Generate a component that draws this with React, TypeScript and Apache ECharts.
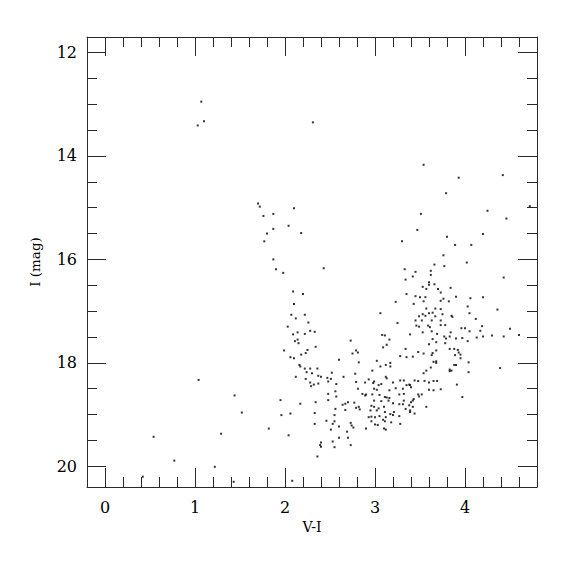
import React, { useEffect, useRef } from "react";
import * as echarts from "echarts";

// V-I colour, I magnitude pairs
const brightStars: [number, number][] = [
  [1.07, 12.95], [1.03, 13.41], [1.1, 13.33], [2.31, 13.35],
];

const blueBranch: [number, number][] = [
  [1.7, 14.92], [1.72, 14.98], [1.76, 15.16], [1.87, 15.12], [2.1, 15.01], [2.04, 15.35], [1.87, 15.41],
  [1.8, 15.5], [1.77, 15.65], [1.87, 16.0], [1.9, 16.19], [1.98, 16.26], [2.09, 16.62], [2.18, 15.49],
  [2.43, 16.17], [2.2, 16.67],
  [2.1, 16.86], [2.07, 17.07], [2.22, 17.07], [2.12, 17.14], [2.26, 17.22], [2.03, 17.3], [2.28, 17.38],
  [2.33, 17.4], [2.14, 17.41], [2.09, 17.45], [2.22, 17.44], [2.14, 17.55], [2.11, 17.58], [2.15, 17.62],
  [2.73, 17.57], [2.34, 17.69], [1.99, 17.76], [2.25, 17.75], [2.23, 17.81], [2.18, 17.84], [2.79, 17.76],
  [2.81, 17.8], [2.75, 17.82], [2.06, 17.89], [2.1, 17.91], [2.6, 17.94], [2.82, 17.99], [2.16, 18.04],
  [2.17, 18.07], [2.22, 18.11], [2.28, 18.11], [2.36, 18.11], [2.24, 18.18], [2.3, 18.2], [2.12, 18.27],
  [2.37, 18.25], [2.4, 18.27], [2.52, 18.19], [2.23, 18.31], [2.47, 18.29], [2.51, 18.31], [2.65, 18.27],
  [2.78, 18.21], [2.93, 18.32], [2.28, 18.38], [2.37, 18.4], [2.48, 18.36], [2.79, 18.37], [2.89, 18.38],
  [2.57, 18.41], [2.29, 18.45], [2.32, 18.42], [2.56, 18.55], [2.81, 18.5], [2.86, 18.6], [2.9, 18.61],
  [2.89, 18.63], [2.48, 18.6], [2.57, 18.65],
];

const faintBranch: [number, number][] = [
  [1.95, 18.72], [2.17, 18.79], [2.34, 18.76], [2.48, 18.72], [2.64, 18.81], [2.67, 18.79], [2.7, 18.76],
  [2.77, 18.77], [2.79, 18.87], [2.82, 18.85], [2.83, 18.9], [2.56, 18.89], [2.67, 18.91], [1.96, 19.01],
  [2.06, 18.98], [2.33, 18.97], [2.55, 19.01], [2.46, 19.12], [2.55, 19.13], [2.73, 19.16], [2.93, 19.05],
  [2.33, 19.18], [2.53, 19.18], [2.6, 19.23], [2.74, 19.21], [2.76, 19.25], [2.51, 19.29], [2.9, 19.27],
  [2.69, 19.33], [2.04, 19.4], [2.6, 19.45], [2.7, 19.45], [2.53, 19.52], [2.4, 19.54], [2.39, 19.59],
  [2.4, 19.62], [2.73, 19.59], [2.55, 19.63], [2.36, 19.81], [2.08, 20.28],
];

const redUpper: [number, number][] = [
  [3.54, 14.17], [3.93, 14.42], [4.42, 14.37], [3.79, 14.72], [4.72, 14.97], [4.25, 15.06], [3.51, 15.12],
  [4.46, 15.21], [3.47, 15.43], [4.2, 15.51], [3.8, 15.56], [3.3, 15.65], [3.89, 15.72], [4.07, 15.72],
  [3.76, 15.92], [4.02, 16.06], [3.66, 16.1], [3.77, 16.13], [3.33, 16.19], [3.45, 16.24], [3.62, 16.22],
  [3.62, 16.3], [3.42, 16.33], [3.34, 16.39], [4.43, 16.35], [3.6, 16.44], [3.6, 16.49], [3.66, 16.48],
  [3.53, 16.53], [3.57, 16.57], [3.7, 16.57], [3.84, 16.55], [3.73, 16.64], [3.35, 16.67], [3.45, 16.71],
  [3.5, 16.73], [3.56, 16.73], [3.76, 16.76], [3.9, 16.72], [4.06, 16.75], [4.2, 16.73],
  [4.36, 16.97], [4.12, 17.15], [4.19, 17.29], [4.17, 17.38], [4.5, 17.34], [4.13, 17.51], [4.2, 17.49],
  [4.3, 17.47], [4.43, 17.49], [4.6, 17.46], [4.39, 18.1],
];

const redMiddle: [number, number][] = [
  [3.23, 16.82], [3.43, 16.86], [3.54, 16.81], [3.73, 16.8], [3.82, 16.81], [3.67, 16.95], [3.73, 16.96],
  [3.57, 16.95], [3.06, 17.04], [4.03, 16.91], [4.05, 17.04], [3.53, 17.06], [3.6, 17.04], [3.64, 17.03],
  [3.56, 17.09], [3.49, 17.1], [3.67, 17.1], [3.75, 17.06], [3.85, 17.09], [3.86, 17.11], [3.45, 17.18],
  [3.52, 17.18], [3.63, 17.18], [3.73, 17.18], [3.25, 17.23], [3.46, 17.28], [3.49, 17.3], [3.59, 17.28],
  [3.61, 17.31], [3.73, 17.27], [3.78, 17.27], [3.96, 17.33], [4.0, 17.33], [4.05, 17.39], [3.53, 17.41],
  [3.63, 17.39], [3.69, 17.44], [3.84, 17.41], [3.83, 17.49], [3.39, 17.45], [3.08, 17.46], [3.11, 17.47],
  [3.13, 17.65], [3.16, 17.55], [3.09, 17.7], [3.64, 17.54], [3.77, 17.49], [3.79, 17.53], [3.9, 17.53],
  [3.97, 17.52], [4.03, 17.58], [3.6, 17.64], [3.68, 17.6], [3.78, 17.62], [3.34, 17.73], [3.48, 17.79],
  [3.54, 17.82], [3.64, 17.81], [3.68, 17.76], [3.63, 17.85], [3.83, 17.73], [3.88, 17.73], [3.92, 17.75],
  [3.95, 17.84], [3.89, 17.85], [3.93, 17.8], [3.02, 17.96], [3.28, 17.87], [3.35, 17.89], [3.42, 17.88],
  [3.65, 17.98], [3.68, 17.97], [3.68, 18.0], [4.04, 17.99], [3.95, 17.91], [3.12, 18.04], [3.17, 18.0],
  [3.17, 18.07], [3.06, 18.07], [2.97, 18.15], [3.62, 18.09], [3.57, 18.15], [3.54, 18.2], [3.83, 18.13],
  [3.85, 18.15], [3.88, 18.04], [3.9, 18.04], [3.83, 18.16], [4.04, 18.18],
];

const redClump: [number, number][] = [
  [2.99, 18.36], [2.98, 18.39], [3.07, 18.41], [3.12, 18.27], [3.13, 18.3], [3.2, 18.38], [3.28, 18.34],
  [3.32, 18.34], [3.35, 18.43], [3.39, 18.43], [3.44, 18.34], [3.48, 18.35], [3.55, 18.35], [3.6, 18.38],
  [3.65, 18.35], [3.69, 18.35], [3.73, 18.51], [3.91, 18.42], [3.97, 18.66], [2.99, 18.5], [3.02, 18.52],
  [3.04, 18.43], [3.16, 18.53], [3.23, 18.49], [3.31, 18.5], [3.32, 18.6], [3.38, 18.42], [3.4, 18.47],
  [3.49, 18.65], [3.52, 18.61], [3.48, 18.61], [3.6, 18.52], [3.65, 18.53], [2.97, 18.61], [3.05, 18.62],
  [3.13, 18.67], [3.16, 18.68], [3.11, 18.66], [3.27, 18.61], [3.43, 18.7],
  [2.99, 18.73], [3.07, 18.74], [3.15, 18.73], [3.32, 18.73], [3.42, 18.73], [3.2, 18.78], [3.27, 18.8],
  [3.31, 18.8], [3.4, 18.76], [3.38, 18.82], [3.42, 18.85], [3.34, 18.89], [2.96, 18.83], [2.99, 18.85],
  [3.04, 18.88], [3.1, 18.85], [2.95, 18.92], [3.02, 18.92], [3.11, 18.95], [3.17, 18.99], [3.2, 19.01],
  [3.21, 18.95], [3.27, 19.03], [2.96, 19.04], [3.0, 19.05], [3.05, 19.03], [3.12, 19.05], [3.39, 18.92],
  [3.39, 18.95], [3.44, 18.98], [3.57, 18.85], [3.09, 19.1], [3.11, 19.13], [3.18, 19.15], [3.28, 19.18],
  [2.96, 19.13], [3.0, 19.19], [3.03, 19.2], [3.1, 19.27], [3.12, 19.29],
];

const faintBlue: [number, number][] = [
  [1.04, 18.33], [1.44, 18.63], [1.52, 18.96], [1.82, 19.27], [1.29, 19.37], [1.22, 20.01], [1.43, 20.3],
  [0.54, 19.43], [0.77, 19.89], [0.42, 20.2],
];

const xMajorTicks = [0, 1, 2, 3, 4];
const xMinorTicks = [0.2, 0.4, 0.6, 0.8, 1.2, 1.4, 1.6, 1.8, 2.2, 2.4, 2.6, 2.8, 3.2, 3.4, 3.6, 3.8, 4.2, 4.4, 4.6];
const yMajorTicks = [12, 14, 16, 18, 20];
const yMinorTicks = [12.5, 13, 13.5, 14.5, 15, 15.5, 16.5, 17, 17.5, 18.5, 19, 19.5];

const FONT = "DejaVu Serif";
const AXIS = "#2a2a2a";

export default function App() {
  const ref = useRef<HTMLDivElement>(null);
  useEffect(() => {
    if (!ref.current) return;
    const chart = echarts.init(ref.current, undefined, { renderer: "svg" });
    const allPoints = [
      ...brightStars, ...blueBranch, ...faintBranch, ...redUpper, ...redMiddle, ...redClump, ...faintBlue,
    ];
    const xBase = { type: "value" as const, min: -0.2, max: 4.8, splitLine: { show: false } };
    const yBase = { type: "value" as const, min: 11.7, max: 20.4, inverse: true, splitLine: { show: false } };
    const line = (show: boolean) => ({ show, onZero: false, lineStyle: { color: AXIS, width: 1 } });
    const tick = (vals: number[], len: number) => ({
      show: true, inside: true, length: len, customValues: vals, lineStyle: { color: AXIS, width: 1 },
    });
    chart.setOption({
      animation: false,
      backgroundColor: "#fff",
      grid: { left: 87, top: 37, width: 450, height: 450, containLabel: false },
      xAxis: [
        {
          ...xBase, position: "bottom", axisLine: line(true), axisTick: tick(xMajorTicks, 19),
          axisLabel: { customValues: xMajorTicks, margin: 12, fontFamily: FONT, fontSize: 16, color: "#000" },
          name: "V-I", nameLocation: "middle", nameGap: 30,
          nameTextStyle: { fontFamily: FONT, fontSize: 14, color: "#000" },
        },
        { ...xBase, position: "bottom", axisLine: line(false), axisTick: tick(xMinorTicks, 10), axisLabel: { show: false } },
        { ...xBase, position: "top", axisLine: line(true), axisTick: tick(xMajorTicks, 19), axisLabel: { show: false } },
        { ...xBase, position: "top", axisLine: line(false), axisTick: tick(xMinorTicks, 10), axisLabel: { show: false } },
      ],
      yAxis: [
        {
          ...yBase, position: "left", axisLine: line(true), axisTick: tick(yMajorTicks, 19),
          axisLabel: { customValues: yMajorTicks, margin: 10, fontFamily: FONT, fontSize: 16, color: "#000" },
          name: "I (mag)", nameLocation: "middle", nameGap: 45, nameRotate: 90,
          nameTextStyle: { fontFamily: FONT, fontSize: 13.5, color: "#000" },
        },
        { ...yBase, position: "left", axisLine: line(false), axisTick: tick(yMinorTicks, 10), axisLabel: { show: false } },
        { ...yBase, position: "right", axisLine: line(true), axisTick: tick(yMajorTicks, 19), axisLabel: { show: false } },
        { ...yBase, position: "right", axisLine: line(false), axisTick: tick(yMinorTicks, 10), axisLabel: { show: false } },
      ],
      series: [
        {
          type: "scatter", xAxisIndex: 0, yAxisIndex: 0, data: allPoints,
          symbol: "rect", symbolSize: 2, itemStyle: { color: "#000" }, silent: true,
        },
      ],
    });
    return () => chart.dispose();
  }, []);
  return (
    <div
      ref={ref}
      style={{ position: "fixed", left: 0, top: 0, width: 575, height: 575, background: "#fff" }}
    />
  );
}
